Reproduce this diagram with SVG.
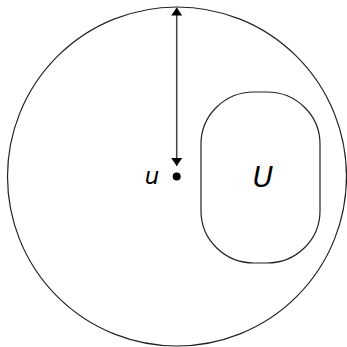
<svg xmlns="http://www.w3.org/2000/svg" width="347" height="347" viewBox="0 0 347 347">
<style>
.shape{fill:none;stroke:#222;stroke-width:1.2}
.conn{stroke:#444;stroke-width:1.5;fill:none}
.lbl{font-family:"DejaVu Sans",sans-serif;font-style:italic;fill:#000}
</style>
<defs>
<marker id="ah" viewBox="0 0 8 11" refX="8" refY="5.5" markerWidth="8" markerHeight="11" markerUnits="userSpaceOnUse" orient="auto">
<path d="M0,0 L8,5.5 L0,11 Z" fill="#000"/>
</marker>
</defs>
<rect width="347" height="347" fill="#fff"/>
<g id="outer">
<circle class="shape" cx="177" cy="176.5" r="169.5"/>
</g>
<g id="U">
<path class="shape" d="M254,92 L267,92 A53,52 0 0 1 320,144 L320,211 A53,52 0 0 1 267,263 L254,263 A53,52 0 0 1 201,211 L201,144 A53,52 0 0 1 254,92 Z"/>
<text class="lbl" x="263" y="187" font-size="28" text-anchor="middle">U</text>
</g>
<g id="u">
<circle cx="176.7" cy="176.5" r="4" fill="#000"/>
<text class="lbl" x="152" y="184" font-size="23" text-anchor="middle">u</text>
</g>
<g id="connectors">
<line class="conn" x1="176.7" y1="90" x2="176.7" y2="7.5" marker-end="url(#ah)"/>
<line class="conn" x1="176.7" y1="90" x2="176.7" y2="166" marker-end="url(#ah)"/>
</g>
</svg>
